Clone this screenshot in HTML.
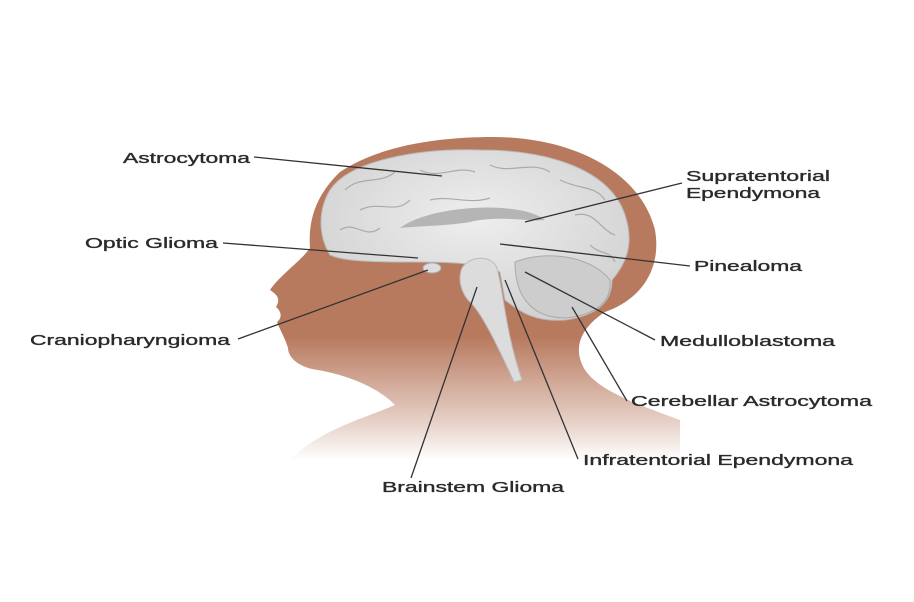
<!DOCTYPE html>
<html><head><style>
body{margin:0;background:#fff;width:914px;height:602px;overflow:hidden}
svg{display:block}
text{font-family:"Liberation Sans",Arial,sans-serif;font-size:15px;fill:#2a2a2a;stroke:#2a2a2a;stroke-width:0.35}
</style></head><body>
<svg width="914" height="602" viewBox="0 0 914 602">
<defs>
<linearGradient id="fade" x1="0" y1="0" x2="0" y2="1">
<stop offset="0.62" stop-color="#b87a5f"/>
<stop offset="0.9" stop-color="#b87a5f" stop-opacity="0.3"/>
<stop offset="1" stop-color="#b87a5f" stop-opacity="0"/>
</linearGradient>
<radialGradient id="br" cx="0.5" cy="0.4" r="0.6">
<stop offset="0" stop-color="#eeeeee"/><stop offset="1" stop-color="#d2d2d2"/>
</radialGradient>
</defs>
<path d="M493,137 C570,137 640,170 655,230 C662,270 640,300 605,312 C585,325 570,345 585,370 C600,392 640,405 680,420 L680,460 L290,460 C320,430 360,420 395,405 C375,385 345,375 318,370 C300,368 288,358 288,348 C285,338 280,330 277,322 C282,318 282,312 276,307 C280,300 279,296 270,290 C280,275 300,262 310,248 C308,220 316,195 340,172 C380,145 440,137 493,137 Z" fill="url(#fade)"/>
<path d="M330,190 C350,160 420,148 480,150 C550,150 610,170 625,215 C635,245 625,265 612,280 C612,300 600,315 565,320 C535,322 520,312 505,300 L500,272 C480,262 440,262 415,262 C380,262 345,262 330,255 C318,235 318,210 330,190 Z" fill="url(#br)" stroke="#bbb" stroke-width="1"/>
<g fill="none" stroke="#aaa" stroke-width="1.2">
<path d="M345,190 C360,175 380,185 395,172 M360,210 C380,200 395,215 410,200 M420,170 C440,180 455,165 475,172 M490,165 C510,175 530,160 550,172 M560,180 C580,190 595,185 605,200 M340,230 C355,220 365,240 380,228 M575,215 C595,210 600,230 615,235 M590,245 C600,255 610,250 615,262 M430,200 C450,195 470,205 490,198"/>
</g>
<path d="M400,228 C430,205 520,200 545,220 C530,222 500,215 470,222 C445,226 420,226 400,228 Z" fill="#b5b5b5"/>
<path d="M515,262 C545,250 590,255 610,280 C612,300 598,315 565,318 C535,318 515,300 515,262 Z" fill="#cdcdcd" stroke="#aaa"/>
<path d="M462,268 C470,255 492,255 497,268 C505,300 505,330 522,380 L514,382 C495,340 480,310 468,300 C460,290 458,278 462,268 Z" fill="#dcdcdc" stroke="#bbb"/>
<ellipse cx="432" cy="268" rx="9" ry="5" fill="#ddd" stroke="#aaa"/>
<g stroke="#333" stroke-width="1.3" fill="none">
<line x1="254" y1="157" x2="442" y2="176"/>
<line x1="223" y1="243" x2="418" y2="258"/>
<line x1="238" y1="339" x2="428" y2="270"/>
<line x1="682" y1="183" x2="525" y2="222"/>
<line x1="690" y1="266" x2="500" y2="244"/>
<line x1="655" y1="340" x2="525" y2="272"/>
<line x1="627" y1="401" x2="572" y2="307"/>
<line x1="578" y1="459" x2="505" y2="280"/>
<line x1="411" y1="478" x2="477" y2="287"/>
</g>
<g lengthAdjust="spacingAndGlyphs">
<text x="123" y="163" textLength="127" lengthAdjust="spacingAndGlyphs">Astrocytoma</text>
<text x="85" y="248" textLength="133" lengthAdjust="spacingAndGlyphs">Optic Glioma</text>
<text x="30" y="345" textLength="200" lengthAdjust="spacingAndGlyphs">Craniopharyngioma</text>
<text x="686" y="181" textLength="144" lengthAdjust="spacingAndGlyphs">Supratentorial</text>
<text x="686" y="198" textLength="134" lengthAdjust="spacingAndGlyphs">Ependymona</text>
<text x="694" y="271" textLength="108" lengthAdjust="spacingAndGlyphs">Pinealoma</text>
<text x="660" y="346" textLength="175" lengthAdjust="spacingAndGlyphs">Medulloblastoma</text>
<text x="631" y="406" textLength="241" lengthAdjust="spacingAndGlyphs">Cerebellar Astrocytoma</text>
<text x="583" y="465" textLength="270" lengthAdjust="spacingAndGlyphs">Infratentorial Ependymona</text>
<text x="382" y="492" textLength="182" lengthAdjust="spacingAndGlyphs">Brainstem Glioma</text>
</g>
</svg>
</body></html>
